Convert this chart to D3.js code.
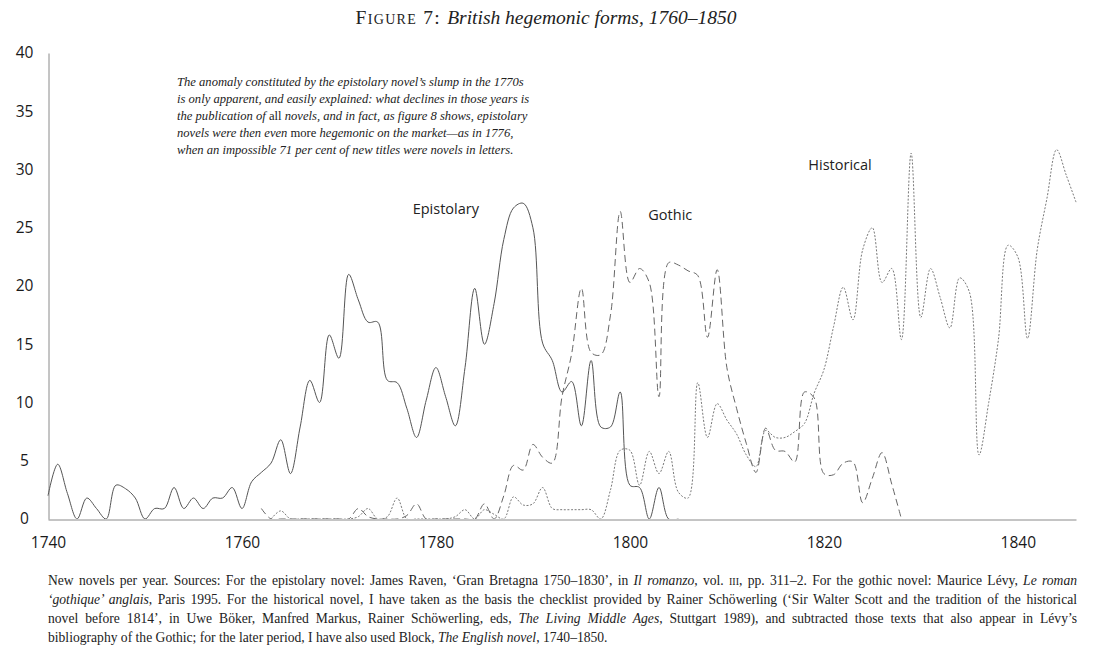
<!DOCTYPE html>
<html>
<head>
<meta charset="utf-8">
<script src="https://cdn.jsdelivr.net/npm/d3@7/dist/d3.min.js"></script>
<style>
  body { margin: 0; background: #fff; }
  svg { display: block; }
  .tick text { font-family: "Open Sans", sans-serif; font-size: 15.5px; fill: #1a1a1a; }
  .serif { font-family: "Liberation Serif", serif; fill: #222; }
  .label { font-family: "Open Sans", sans-serif; font-size: 14.5px; fill: #222; }
</style>
</head>
<body>
<svg id="chart" width="1093" height="651"></svg>
<script>
// data (new novels per year)
var epistolaryStart = 1740;
var epistolary = [2.0, 4.7, 2.2, 0, 1.8, 0.9, 0, 2.9, 2.6, 1.8,
  0, 0.9, 0.9, 2.7, 0.9, 1.8, 0.9, 1.8, 1.8, 2.7,
  0.9, 3.2, 4.0, 4.8, 6.8, 3.9, 7.9, 11.9, 10.0, 15.8,
  13.8, 21.0, 18.8, 16.9, 16.9, 11.9, 11.7, 9.5, 7.0, 10.2,
  13.0, 10.5, 8.0, 13.0, 19.8, 15.0, 18.5, 24.0, 26.7, 27.1,
  25.0, 15.1, 13.6, 10.9, 11.8, 8.0, 13.6, 7.9, 7.9, 10.9,
  2.9, 2.7, 0, 2.7, 0, 0];

var gothicStart = 1762;
var gothic = [0.9, 0, 0, 0, 0, 0, 0, 0, 0, 0,
  0.9, 0.2, 0, 0, 0, 0.3, 1.3, 0, 0, 0,
  0, 0, 0, 1.3, 0, 2.0, 4.6, 4.2, 6.4, 5.3,
  4.8, 10.5, 14.2, 19.8, 14.3, 14.1, 17.5, 26.4, 20.3, 21.5,
  20.3, 10.5, 22.0, 21.8, 21.3, 20.9, 15.6, 21.4, 13.0, 9.5,
  6.5, 4.0, 7.8, 5.9, 5.8, 4.9, 10.9, 10.4, 3.9, 3.8,
  4.8, 4.9, 1.4, 3.5, 5.7, 3.0, 0];

var historicalStart = 1763;
var historical = [0, 0.7, 0, 0, 0, 0, 0, 0, 0, 0.2,
  0.9, 0, 0.2, 1.8, 0, 0, 0, 0, 0, 0.2,
  0.8, 0, 0.8, 0.4, 0, 1.9, 1.2, 1.3, 2.7, 0.9,
  0.8, 0.8, 0.8, 0.8, 0, 2.5, 5.9, 5.9, 2.9, 5.8,
  3.9, 5.8, 2.3, 1.8, 11.7, 7.0, 9.9, 8.5, 7.3, 5.5,
  4.5, 7.6, 7.0, 7.0, 7.5, 8.2, 10.8, 12.8, 16.5, 19.9,
  17.1, 23.1, 25.0, 20.3, 21.5, 15.4, 31.4, 17.3, 21.5, 19.0,
  16.4, 20.7, 19.5, 5.5, 10.0, 15.4, 23.5, 22.5, 15.5, 23.1,
  27.5, 31.7, 29.5, 27.2];

var yearTicks = [1740, 1760, 1780, 1800, 1820, 1840];
var valueTicks = [0, 5, 10, 15, 20, 25, 30, 35, 40];

var seriesLabels = [
  { text: 'Epistolary', year: 1777.6, value: 26.2 },
  { text: 'Gothic', year: 1801.9, value: 25.7 },
  { text: 'Historical', year: 1818.4, value: 30.0 }
];

var noteLines = [
  [['The anomaly constituted by the epistolary novel\u2019s slump in the 1770s', 'italic']],
  [['is only apparent, and easily explained: what declines in those years is', 'italic']],
  [['the publication of ', 'italic'], ['all', 'normal'], [' novels, and in fact, as figure 8 shows, epistolary', 'italic']],
  [['novels were then even ', 'italic'], ['more', 'normal'], [' hegemonic on the market\u2014as in 1776,', 'italic']],
  [['when an impossible 71 per cent of new titles were novels in letters.', 'italic']]
];

var captionLines = [
  [['New novels per year. Sources: For the epistolary novel: James Raven, \u2018Gran Bretagna 1750\u20131830\u2019, in ', 'normal'], ['Il romanzo', 'italic'], [', vol. ', 'normal'], ['iii', 'caps'], [', pp. 311\u20132. For the gothic novel: Maurice L\u00e9vy, ', 'normal'], ['Le roman', 'italic']],
  [['\u2018gothique\u2019 anglais', 'italic'], [', Paris 1995. For the historical novel, I have taken as the basis the checklist provided by Rainer Sch\u00f6werling (\u2018Sir Walter Scott and the tradition of the historical', 'normal']],
  [['novel before 1814\u2019, in Uwe B\u00f6ker, Manfred Markus, Rainer Sch\u00f6werling, eds, ', 'normal'], ['The Living Middle Ages', 'italic'], [', Stuttgart 1989), and subtracted those texts that also appear in L\u00e9vy\u2019s', 'normal']],
  [['bibliography of the Gothic; for the later period, I have also used Block, ', 'normal'], ['The English novel', 'italic'], [', 1740\u20131850.', 'normal']]
];

var toPoints = function(start, values) {
  return values.map(function(v, i) { return { year: start + i, value: v }; });
};

var svg = d3.select('#chart');

var x = d3.scaleLinear().domain([1740, 1846]).range([48, 1076]);
var y = d3.scaleLinear().domain([0, 40]).range([519, 53]);

// axes
var xAxis = svg.append('g')
  .attr('transform', 'translate(0,' + (y(0) + 0.5) + ')')
  .call(d3.axisBottom(x).tickValues(yearTicks).tickFormat(d3.format('d')).tickSize(0).tickPadding(17));
xAxis.select('.domain').attr('stroke', '#8a8a8a');

var yAxis = svg.append('g')
  .attr('transform', 'translate(' + (x(1740) + 0.5) + ',0)')
  .call(d3.axisLeft(y).tickValues(valueTicks).tickSize(0).tickPadding(24));
yAxis.select('.domain').attr('stroke', '#8a8a8a');
yAxis.selectAll('.tick text').attr('text-anchor', 'middle');

// clip so the smoothing never dips under the axis
svg.append('clipPath').attr('id', 'plot')
  .append('rect').attr('x', 40).attr('y', 40).attr('width', 1050).attr('height', y(0) - 40);

var line = d3.line()
  .x(function(d) { return x(d.year); })
  .y(function(d) { return y(d.value); })
  .curve(d3.curveCatmullRom.alpha(0.5));

var lines = svg.append('g').attr('clip-path', 'url(#plot)').attr('fill', 'none');

lines.append('path')
  .attr('d', line(toPoints(historicalStart, historical)))
  .attr('stroke', '#7a7a7a').attr('stroke-width', 1).attr('stroke-dasharray', '2,1.6');

lines.append('path')
  .attr('d', line(toPoints(gothicStart, gothic)))
  .attr('stroke', '#666').attr('stroke-width', 1).attr('stroke-dasharray', '7,4');

lines.append('path')
  .attr('d', line(toPoints(epistolaryStart, epistolary)))
  .attr('stroke', '#555').attr('stroke-width', 1);

svg.selectAll('text.label')
  .data(seriesLabels)
  .enter().append('text')
  .attr('class', 'label')
  .attr('x', function(d) { return x(d.year); })
  .attr('y', function(d) { return y(d.value); })
  .text(function(d) { return d.text; });

// title
var title = svg.append('text').attr('class', 'serif')
  .attr('x', 546).attr('y', 24).attr('text-anchor', 'middle').attr('font-size', 19.5);
title.append('tspan').attr('font-variant', 'small-caps').attr('letter-spacing', 1.3).text('Figure 7: ');
title.append('tspan').attr('font-style', 'italic').text('British hegemonic forms, 1760\u20131850');

// note in the plot
var addRuns = function(textNode, runs) {
  runs.forEach(function(r) {
    var t = textNode.append('tspan').text(r[0]);
    if (r[1] === 'italic') t.attr('font-style', 'italic');
    if (r[1] === 'caps') t.attr('font-variant', 'small-caps');
  });
};

noteLines.forEach(function(runs, i) {
  var t = svg.append('text').attr('class', 'serif')
    .attr('x', 177).attr('y', 86 + i * 17).attr('font-size', 12.6);
  addRuns(t, runs);
});

// caption, justified to the plot width
captionLines.forEach(function(runs, i) {
  var t = svg.append('text').attr('class', 'serif')
    .attr('x', 48).attr('y', 585 + i * 19).attr('font-size', 13.6);
  addRuns(t, runs);
  if (i < captionLines.length - 1) {
    var natural = t.node().getComputedTextLength();
    var spaces = runs.map(function(r) { return r[0]; }).join('').split(' ').length - 1;
    t.attr('word-spacing', (1029 - natural) / spaces);
  }
});
</script>
</body>
</html>
